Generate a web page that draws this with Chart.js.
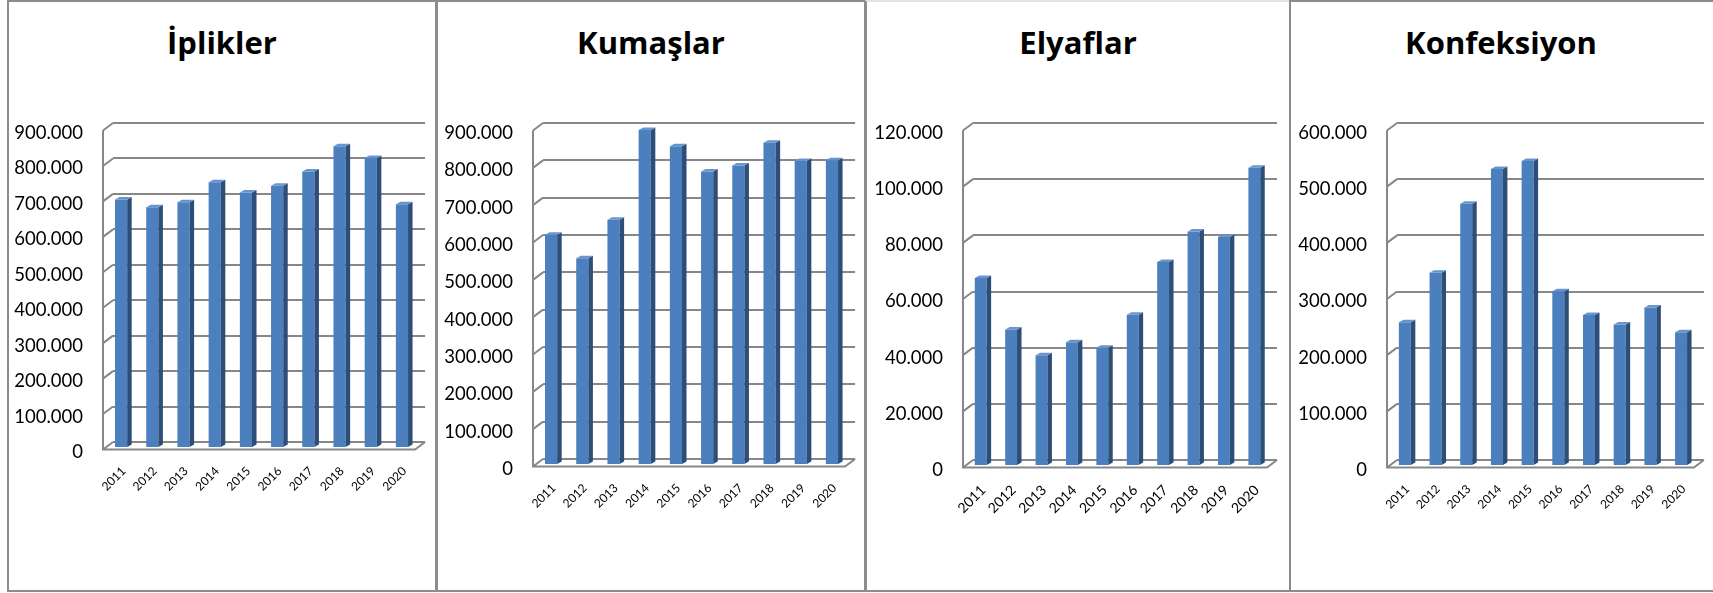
<!DOCTYPE html>
<html>
<head>
<meta charset="utf-8">
<script src="https://cdn.jsdelivr.net/npm/chart.js@4.4.1/dist/chart.umd.min.js"></script>
<style>
html,body{margin:0;padding:0;background:#fff;}
body{width:1713px;height:593px;position:relative;overflow:hidden;}
.panel{position:absolute;top:0;height:592px;border:2px solid #8c8c8c;box-sizing:border-box;}
.title{position:absolute;top:24px;line-height:37px;font-family:"Open Sans",Lato,sans-serif;font-weight:bold;font-size:31px;color:#000;text-align:center;white-space:nowrap;}
canvas{position:absolute;}
</style>
</head>
<body>
<div class="panel" style="left:7px;width:430px;"></div>
<div class="panel" style="left:436px;width:430px;"></div>
<div class="panel" style="left:865px;width:426px;border-top-color:#e4e4e4;"></div>
<div class="panel" style="left:1289px;width:432px;"></div>

<div class="title" id="t0"></div>
<div class="title" id="t1"></div>
<div class="title" id="t2"></div>
<div class="title" id="t3"></div>

<canvas id="c0" width="425" height="586" style="left:9px;top:2px;"></canvas>
<canvas id="c1" width="426" height="586" style="left:438px;top:2px;"></canvas>
<canvas id="c2" width="421" height="586" style="left:867px;top:2px;"></canvas>
<canvas id="c3" width="422" height="586" style="left:1291px;top:2px;"></canvas>

<script>
// ---- data ----
const titles = ['İplikler', 'Kumaşlar', 'Elyaflar', 'Konfeksiyon'];
const years = ['2011','2012','2013','2014','2015','2016','2017','2018','2019','2020'];
const iplikler    = [701000, 679000, 693000, 750000, 721000, 740000, 780000, 851000, 818000, 688000];
const kumaslar    = [617000, 554000, 657000, 897000, 854000, 786000, 802000, 863000, 814000, 816000];
const elyaflar    = [66900, 48600, 39400, 44100, 42100, 53900, 72600, 83500, 81500, 106200];
const konfeksiyon = [256000, 344000, 467000, 529000, 543000, 311000, 269000, 252000, 282000, 238000];
const yMax  = [900000, 900000, 120000, 600000];
const yStep = [100000, 100000, 20000, 100000];

// ---- layout / style ----
const series = [iplikler, kumaslar, elyaflar, konfeksiyon];
const layouts = [
  {panelL:7,   panelW:430, yW:104, padR:7, padT:121, xH:146, xFont:12},
  {panelL:436, panelW:430, yW:105, padR:7, padT:121, xH:129, xFont:12},
  {panelL:865, panelW:426, yW:106, padR:6, padT:121, xH:128, xFont:14},
  {panelL:1289,panelW:424, yW:106, padR:5, padT:121, xH:128, xFont:12}
];
const GRID = '#878787';
const FRONT = '#4b7fbd';
const SIDE = '#2c4e78';
const TOPC = '#6a95cc';

function fmt(v){ return String(v).replace(/\B(?=(\d{3})+(?!\d))/g, '.'); }

const threeD = {
  id: 'threeD',
  beforeDatasetsDraw(chart, args, o) {
    const ctx = chart.ctx, a = chart.chartArea, ys = chart.scales.y;
    ctx.save();
    ctx.strokeStyle = GRID; ctx.lineWidth = 2; ctx.lineJoin = 'miter';
    ctx.beginPath();
    ys.ticks.forEach(t => {
      const py = ys.getPixelForValue(t.value);
      ctx.moveTo(a.left, py); ctx.lineTo(a.left - o.wx, py + o.wy);
    });
    ctx.moveTo(a.left - o.wx, a.top + o.wy);
    ctx.lineTo(a.left - o.wx, a.bottom + o.wy);
    ctx.lineTo(a.right - o.wx, a.bottom + o.wy);
    ctx.lineTo(a.right, a.bottom);
    ctx.stroke();
    ctx.restore();
    ctx.save();
    ctx.translate(o.tx, o.ty);
  },
  afterDatasetsDraw(chart, args, o) {
    const ctx = chart.ctx;
    chart.getDatasetMeta(0).data.forEach(bar => {
      const p = bar.getProps(['x','y','base','width'], true);
      const l = p.x - p.width/2, r = p.x + p.width/2;
      ctx.fillStyle = SIDE;
      ctx.beginPath();
      ctx.moveTo(r, p.y); ctx.lineTo(r + o.d, p.y - o.e);
      ctx.lineTo(r + o.d, p.base - o.e); ctx.lineTo(r, p.base);
      ctx.closePath(); ctx.fill();
      ctx.fillStyle = TOPC;
      ctx.beginPath();
      ctx.moveTo(l, p.y); ctx.lineTo(l + o.d, p.y - o.e);
      ctx.lineTo(r + o.d, p.y - o.e); ctx.lineTo(r, p.y);
      ctx.closePath(); ctx.fill();
    });
    ctx.restore();
  }
};

layouts.forEach((L, i) => {
  const t = document.getElementById('t' + i);
  t.textContent = titles[i];
  t.style.left = L.panelL + 'px';
  t.style.width = L.panelW + 'px';

  new Chart(document.getElementById('c' + i), {
    type: 'bar',
    data: {
      labels: years,
      datasets: [{
        data: series[i],
        backgroundColor: FRONT,
        borderWidth: 0,
        categoryPercentage: 1,
        barPercentage: 0.39,
        clip: false
      }]
    },
    options: {
      responsive: false,
      animation: false,
      devicePixelRatio: 1,
      layout: {padding: {left: 0, right: L.padR, top: L.padT, bottom: 0}},
      plugins: {
        legend: {display: false},
        tooltip: {enabled: false},
        title: {display: false},
        threeD: {wx: 10, wy: 7.5, tx: -7.5, ty: 6, d: 4.5, e: 2.5}
      },
      scales: {
        x: {
          grid: {display: false},
          border: {display: false},
          afterFit(s) { s.height = L.xH; },
          ticks: {
            autoSkip: false,
            minRotation: 45, maxRotation: 45,
            padding: 14,
            labelOffset: -5,
            color: '#000',
            font: {family: 'Lato', size: L.xFont}
          }
        },
        y: {
          min: 0, max: yMax[i],
          grid: {color: GRID, lineWidth: 2, drawTicks: false},
          border: {display: false},
          afterFit(s) { s.width = L.yW; },
          ticks: {
            stepSize: yStep[i],
            padding: 30,
            labelOffset: 10,
            color: '#000',
            font: {family: 'Lato', size: 18.5},
            callback: v => fmt(v)
          }
        }
      }
    },
    plugins: [threeD]
  });
});
</script>
</body>
</html>
